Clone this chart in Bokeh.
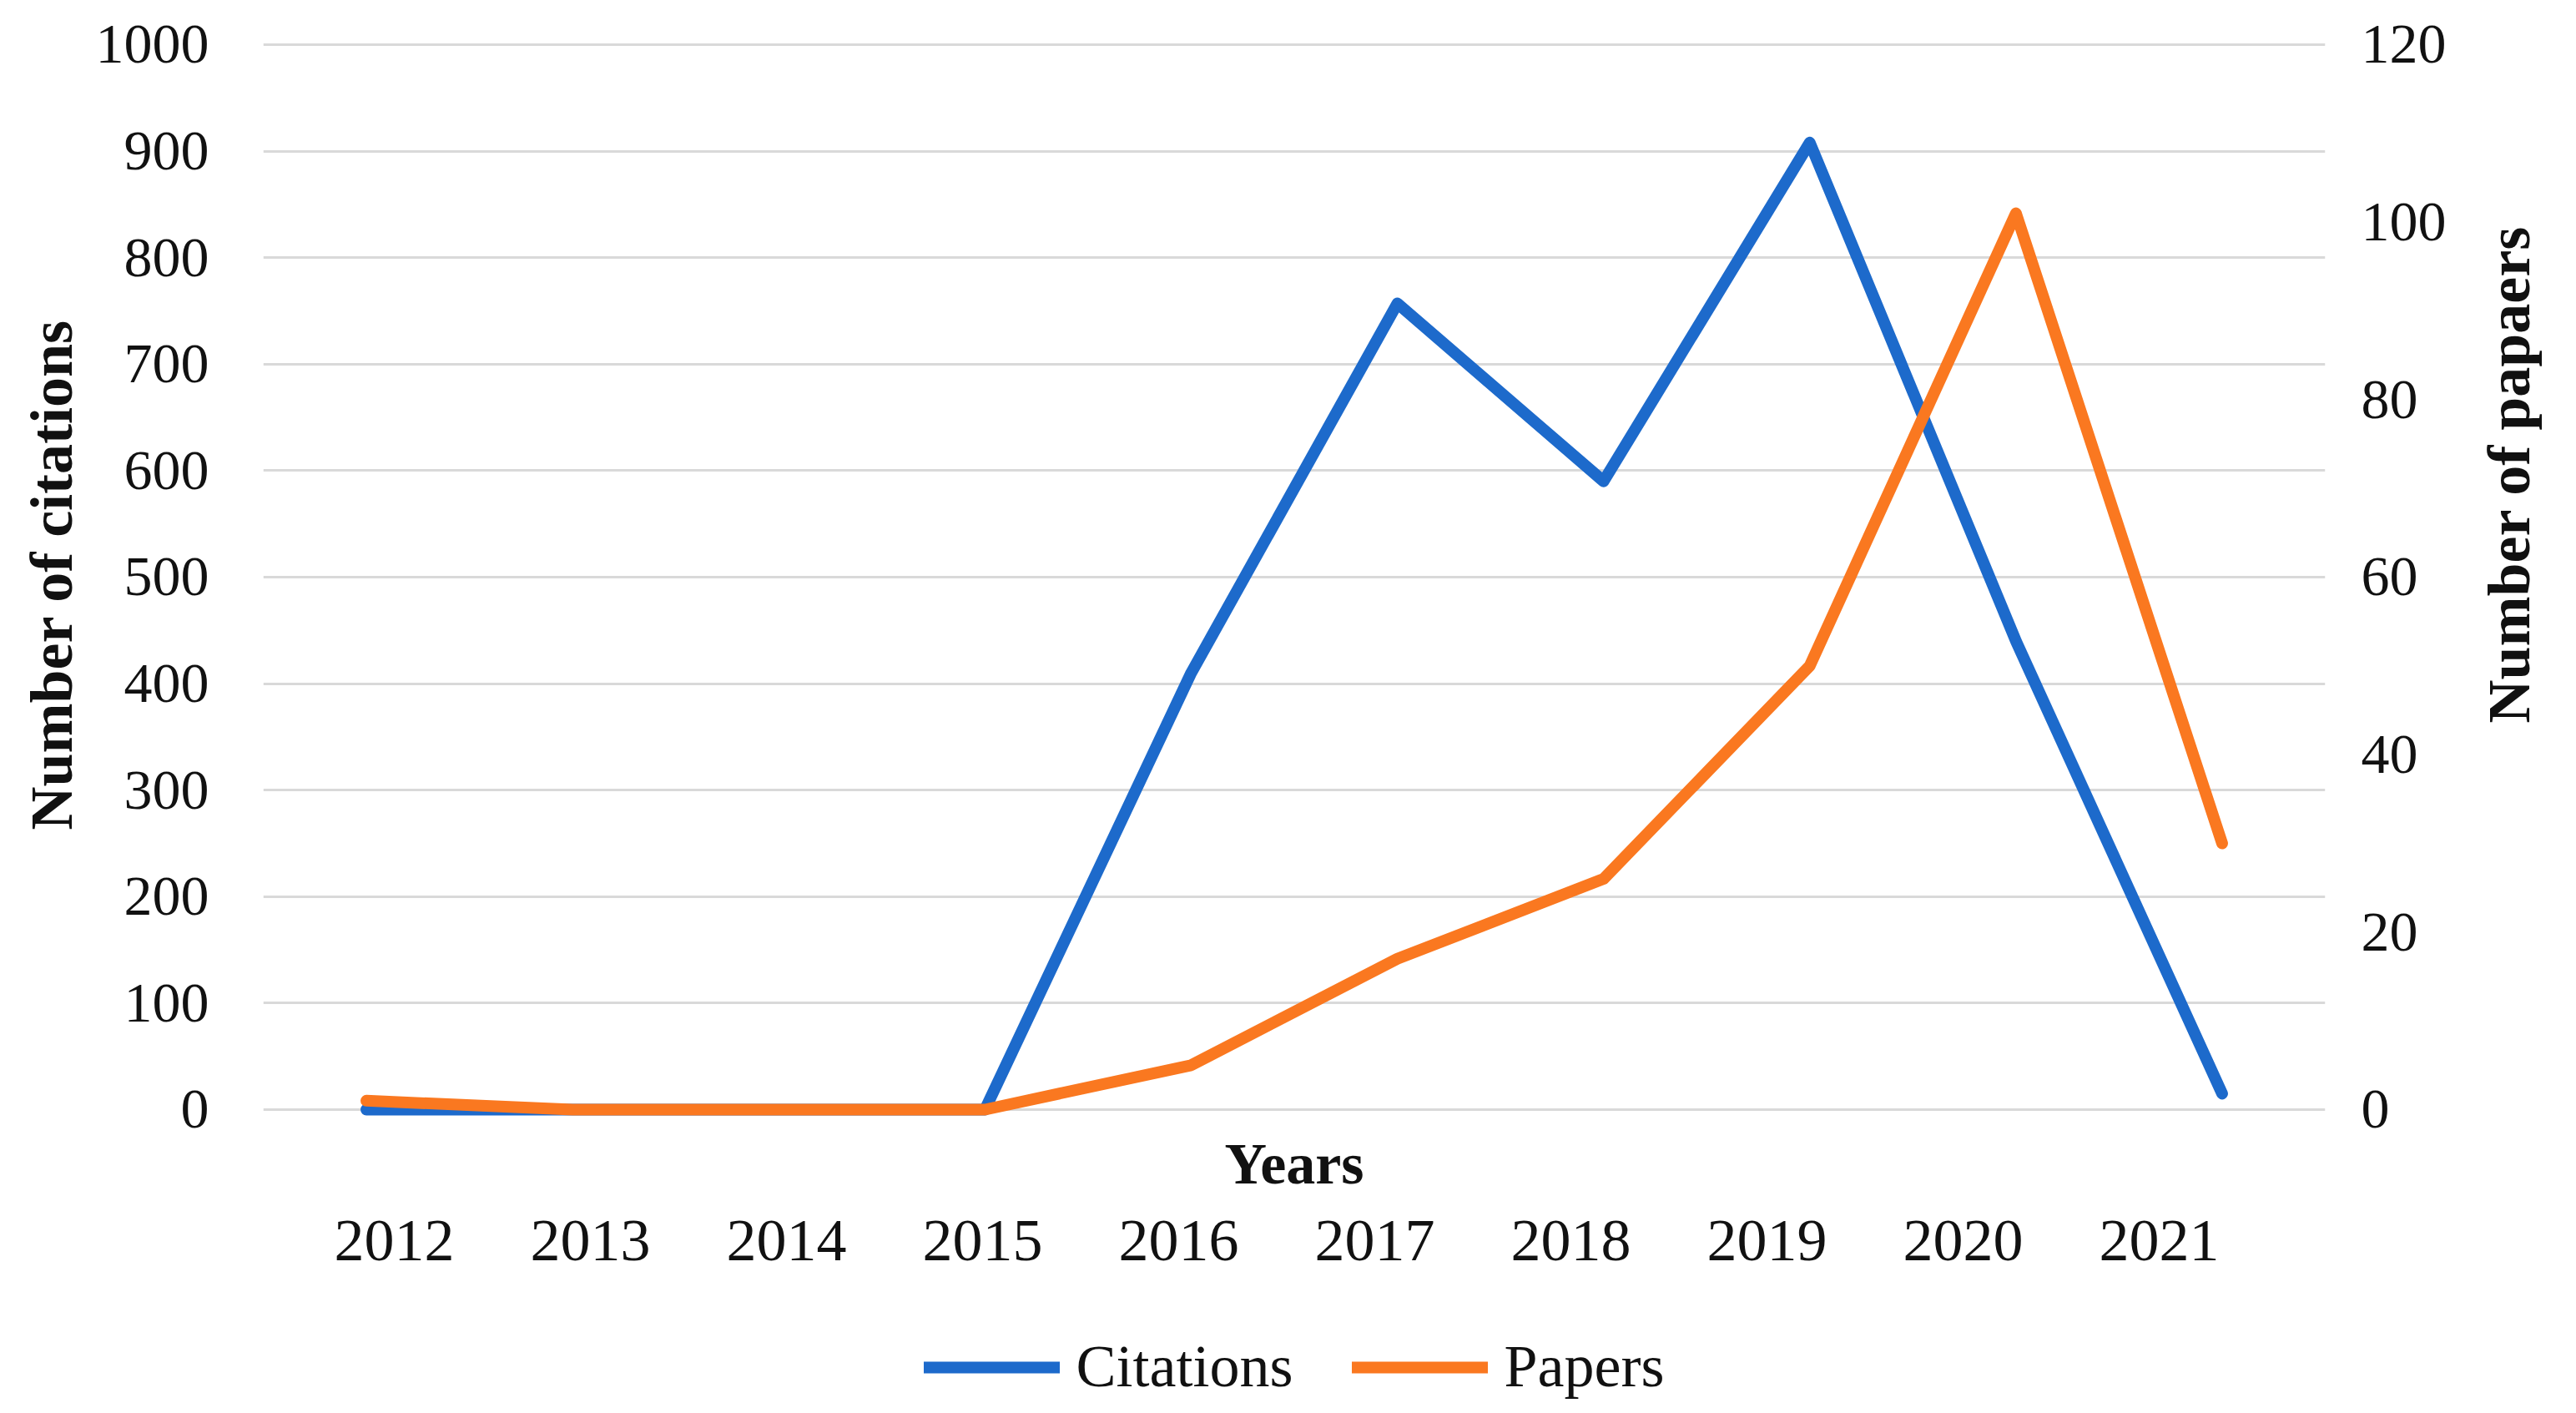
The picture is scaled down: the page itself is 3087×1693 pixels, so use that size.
import math
from bokeh.plotting import figure
from bokeh.models import (Range1d, LinearAxis, FixedTicker, Legend,
                          LegendItem, ColumnDataSource, Title)
from bokeh.core.properties import value
from bokeh.embed import file_html
from bokeh.resources import INLINE

# ---- data ----
years = ["2012", "2013", "2014", "2015", "2016", "2017", "2018", "2019", "2020", "2021"]
citations = [0, 0, 0, 0, 410, 757, 590, 908, 440, 15]
papers = [1, 0, 0, 0, 5, 17, 26, 50, 101, 30]
left_ticks = [0, 100, 200, 300, 400, 500, 600, 700, 800, 900, 1000]
right_ticks = [0, 20, 40, 60, 80, 100, 120]
year_num = [int(y) for y in years]

BLUE = "#1d6acb"
ORANGE = "#fa7820"
FONT = "Liberation Serif"
TXT = "#111111"

# vertical layout (in citation units): the frame also holds the x labels and legend
Y_TOP, Y_BOTTOM = 1004.7, -279.0
PAPER_SCALE = 120 / 1000
YEARS_Y = -51          # "Years" title row
TICKLAB_Y = -123       # year label row

src = ColumnDataSource(dict(year=year_num, citations=citations, papers=papers))
lab_src = ColumnDataSource(dict(year=year_num, label=years,
                                y=[TICKLAB_Y] * len(years)))

def style_axis(ax):
    ax.axis_line_color = None
    ax.major_tick_line_color = None
    ax.minor_tick_line_color = None
    ax.major_tick_out = 0
    ax.major_tick_in = 0
    ax.major_label_text_font = FONT
    ax.major_label_text_color = TXT
    ax.axis_label_text_font = FONT
    ax.axis_label_text_font_style = "bold"
    ax.axis_label_text_color = TXT

p = figure(frame_width=2471, frame_height=1638,
           x_range=Range1d(year_num[0] - 0.5, year_num[-1] + 0.5),
           y_range=Range1d(Y_BOTTOM, Y_TOP),
           x_axis_location=None,
           output_backend="svg", toolbar_location=None,
           min_border_left=315, min_border_right=290,
           min_border_top=47, min_border_bottom=0)
p.outline_line_color = None
p.background_fill_color = "white"
p.border_fill_color = "white"

p.extra_y_ranges = {"papers": Range1d(Y_BOTTOM * PAPER_SCALE, Y_TOP * PAPER_SCALE)}
p.extra_x_ranges = {"lab": Range1d(2011.332, 2021.847)}

p.xgrid.visible = False
p.ygrid.ticker = FixedTicker(ticks=left_ticks)
p.ygrid.grid_line_color = "#d9d9d9"
p.ygrid.grid_line_width = 3

r1 = p.line(x="year", y="citations", source=src, line_color=BLUE, line_width=14,
            line_join="round", line_cap="round")
r2 = p.line(x="year", y="papers", source=src, line_color=ORANGE, line_width=14,
            line_join="round", line_cap="round", y_range_name="papers")

# left axis (tick labels) + its title
ya = p.yaxis[0]
style_axis(ya)
ya.ticker = FixedTicker(ticks=left_ticks)
ya.major_label_text_font_size = "68px"
ya.major_label_standoff = 65

lt = Title(text="Number of citations", align="left", offset=691, standoff=19,
           text_font=FONT, text_font_size="72px", text_font_style="bold",
           text_color=TXT)
p.add_layout(lt, "left")

# right axis (tick labels + title reading bottom-to-top)
ra = LinearAxis(y_range_name="papers", ticker=FixedTicker(ticks=right_ticks))
style_axis(ra)
ra.major_label_text_font_size = "68px"
ra.major_label_standoff = 43
ra.axis_label = "Number of papaers"
ra.axis_label_text_font_size = "72px"
ra.axis_label_standoff = 72
ra.axis_label_orientation = math.pi / 2
p.add_layout(ra, "right")

# x axis title and year labels
p.text(x=[sum(year_num) / len(year_num)], y=[YEARS_Y], text=["Years"],
       text_font=value(FONT), text_font_size=value("70px"),
       text_font_style="bold", text_color=TXT,
       text_align="center", text_baseline="middle")
p.text(x="year", y="y", text="label", source=lab_src, x_range_name="lab",
       text_font=value(FONT), text_font_size=value("72px"), text_color=TXT,
       text_align="center", text_baseline="middle")

legend = Legend(items=[LegendItem(label="Citations", renderers=[r1]),
                       LegendItem(label="Papers", renderers=[r2])],
                orientation="horizontal", location="bottom_center")
legend.label_text_font = FONT
legend.label_text_font_size = "72px"
legend.label_text_color = TXT
legend.glyph_width = 163
legend.glyph_height = 20
legend.label_standoff = 20
legend.spacing = 70
legend.border_line_color = None
legend.background_fill_alpha = 0
legend.padding = 0
legend.margin = 6
p.add_layout(legend)

open("out.html", "w").write(file_html(p, INLINE))
